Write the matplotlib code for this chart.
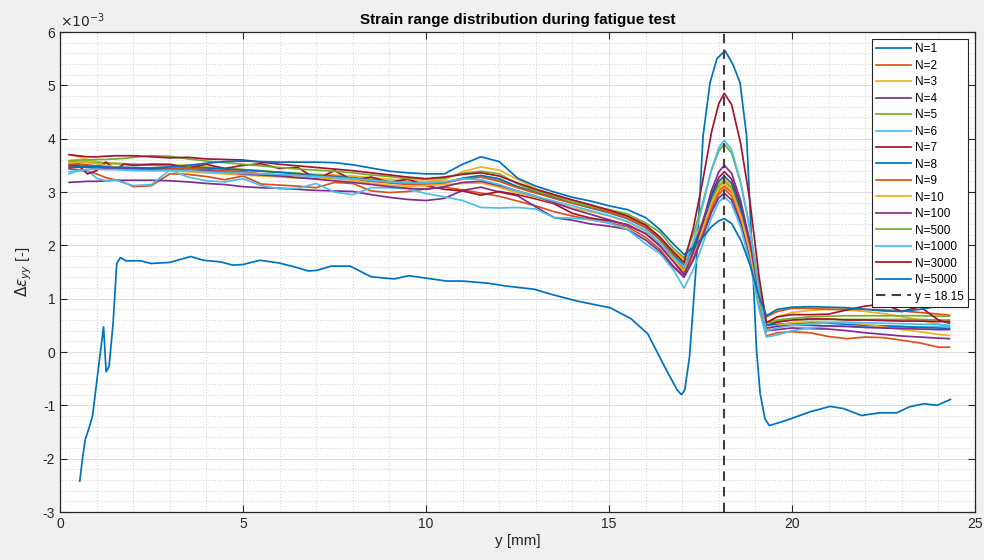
import matplotlib
matplotlib.use('Agg')
import matplotlib.pyplot as plt
from matplotlib.ticker import MultipleLocator

plt.rcParams['font.family'] = ['Liberation Sans', 'DejaVu Sans']
plt.rcParams['axes.unicode_minus'] = False

# ---- data (strain range, units of 1e-3) ----
# first cycle, measured on its own grid
n1_y = [0.54, 0.62, 0.69, 0.80, 0.89, 1.03, 1.19, 1.26, 1.34, 1.45,
        1.55, 1.65, 1.80, 2.2, 2.49, 3.0, 3.57, 3.92, 4.38, 4.72,
        5.0, 5.46, 5.98, 6.44, 6.78, 7.01, 7.41, 7.93, 8.16, 8.5,
        9.13, 9.53, 10.1, 10.56, 11.0, 11.7, 12.16, 12.97, 13.43, 14.1,
        14.7, 15.03, 15.6, 16.06, 16.5, 16.86, 16.98, 17.07, 17.2, 17.38,
        17.57, 17.76, 17.95, 18.17, 18.38, 18.58, 18.76, 18.9, 19.03, 19.13,
        19.26, 19.38, 19.85, 20.5, 21.04, 21.4, 21.9, 22.4, 22.86, 23.2,
        23.6, 23.96, 24.33]
n1_strain = [-2.42, -1.97, -1.64, -1.41, -1.19, -0.41, 0.47, -0.37, -0.27, 0.53,
             1.66, 1.77, 1.71, 1.71, 1.66, 1.68, 1.79, 1.72, 1.69, 1.63,
             1.64, 1.72, 1.67, 1.59, 1.52, 1.53, 1.61, 1.61, 1.53, 1.41,
             1.37, 1.43, 1.375, 1.33, 1.33, 1.29, 1.24, 1.175, 1.08, 0.96,
             0.875, 0.83, 0.625, 0.34, -0.25, -0.71, -0.80, -0.71, -0.09, 1.6,
             4.05, 5.05, 5.5, 5.65, 5.4, 5.05, 4.05, 2.0, 0.04, -0.78,
             -1.25, -1.38, -1.28, -1.12, -1.02, -1.06, -1.19, -1.14, -1.14, -1.03,
             -0.97, -1.0, -0.89]

# later cycles share one position grid
y_pos = [0.25, 0.5, 0.75, 1.0, 1.25, 1.5, 1.75, 2.0, 2.5, 3.0,
         3.5, 4.0, 4.5, 5.0, 5.5, 6.0, 6.5, 7.0, 7.5, 8.0,
         8.5, 9.0, 9.5, 10.0, 10.5, 11.0, 11.5, 12.0, 12.5, 13.0,
         13.5, 14.0, 14.5, 15.0, 15.5, 16.0, 16.4, 16.75, 17.05, 17.3,
         17.55, 17.8, 18.0, 18.15, 18.35, 18.6, 18.85, 19.1, 19.3, 19.6,
         20.0, 20.5, 21.0, 21.5, 22.0, 22.5, 23.0, 23.5, 24.0, 24.3]

n2 = [3.43, 3.42, 3.39, 3.34, 3.27, 3.23, 3.18, 3.10, 3.12, 3.34,
      3.33, 3.29, 3.23, 3.30, 3.15, 3.13, 3.11, 3.08, 3.18, 3.16,
      3.02, 2.99, 3.01, 3.06, 3.09, 3.04, 2.98, 2.92, 2.83, 2.74,
      2.63, 2.55, 2.48, 2.42, 2.35, 2.15, 1.92, 1.62, 1.42, 1.75,
      2.19, 2.68, 2.96, 3.06, 2.92, 2.45, 1.76, 0.85, 0.30, 0.36,
      0.38, 0.36, 0.29, 0.25, 0.28, 0.27, 0.22, 0.17, 0.09, 0.09]
n3 = [3.70, 3.66, 3.61, 3.57, 3.55, 3.54, 3.53, 3.52, 3.52, 3.51,
      3.50, 3.47, 3.45, 3.42, 3.39, 3.37, 3.35, 3.33, 3.32, 3.30,
      3.27, 3.24, 3.21, 3.20, 3.23, 3.38, 3.47, 3.41, 3.24, 3.06,
      2.95, 2.84, 2.74, 2.65, 2.55, 2.38, 2.14, 1.90, 1.74, 2.04,
      2.45, 2.90, 3.15, 3.24, 3.11, 2.65, 1.98, 1.09, 0.55, 0.66,
      0.74, 0.78, 0.80, 0.79, 0.76, 0.72, 0.66, 0.60, 0.52, 0.47]
n4 = [3.18, 3.19, 3.20, 3.20, 3.21, 3.22, 3.22, 3.22, 3.22, 3.21,
      3.19, 3.16, 3.14, 3.10, 3.08, 3.07, 3.05, 3.03, 3.02, 3.01,
      2.95, 2.90, 2.86, 2.84, 2.88, 3.03, 3.09, 3.00, 2.93, 2.72,
      2.52, 2.47, 2.40, 2.36, 2.30, 2.10, 1.88, 1.60, 1.40, 1.72,
      2.14, 2.62, 2.89, 2.98, 2.85, 2.41, 1.77, 0.92, 0.40, 0.42,
      0.45, 0.44, 0.43, 0.40, 0.36, 0.33, 0.30, 0.28, 0.26, 0.25]
n5 = [3.58, 3.57, 3.56, 3.55, 3.54, 3.53, 3.53, 3.52, 3.50, 3.49,
      3.48, 3.46, 3.44, 3.42, 3.40, 3.37, 3.35, 3.32, 3.30, 3.27,
      3.24, 3.20, 3.18, 3.17, 3.19, 3.25, 3.28, 3.22, 3.10, 3.00,
      2.91, 2.80, 2.72, 2.64, 2.55, 2.38, 2.14, 1.86, 1.66, 1.97,
      2.38, 2.85, 3.11, 3.20, 3.07, 2.62, 1.95, 1.08, 0.55, 0.58,
      0.60, 0.61, 0.61, 0.61, 0.61, 0.61, 0.61, 0.61, 0.60, 0.60]
n6 = [3.34, 3.40, 3.40, 3.26, 3.21, 3.23, 3.17, 3.12, 3.14, 3.41,
      3.28, 3.21, 3.19, 3.25, 3.12, 3.06, 3.07, 3.16, 3.00, 2.95,
      3.08, 3.08, 3.06, 2.97, 2.91, 2.84, 2.71, 2.70, 2.71, 2.68,
      2.52, 2.51, 2.48, 2.42, 2.30, 2.03, 1.84, 1.55, 1.20, 1.54,
      2.00, 2.52, 2.81, 2.91, 2.78, 2.33, 1.67, 0.81, 0.28, 0.32,
      0.40, 0.45, 0.48, 0.48, 0.47, 0.47, 0.46, 0.47, 0.48, 0.48]
n7 = [3.49, 3.50, 3.34, 3.40, 3.56, 3.43, 3.52, 3.50, 3.52, 3.52,
      3.45, 3.52, 3.44, 3.50, 3.53, 3.44, 3.46, 3.24, 3.40, 3.22,
      3.28, 3.18, 3.24, 3.12, 3.05, 3.02, 2.94, 3.01, 2.95, 2.87,
      2.78, 2.60, 2.51, 2.46, 2.39, 2.22, 2.00, 1.72, 1.50, 1.88,
      2.38, 2.95, 3.27, 3.38, 3.24, 2.75, 2.03, 1.08, 0.50, 0.56,
      0.60, 0.62, 0.62, 0.60, 0.60, 0.59, 0.58, 0.58, 0.57, 0.57]
n8 = [3.52, 3.51, 3.50, 3.49, 3.48, 3.47, 3.46, 3.45, 3.44, 3.44,
      3.45, 3.45, 3.43, 3.41, 3.39, 3.37, 3.34, 3.31, 3.29, 3.26,
      3.22, 3.19, 3.16, 3.15, 3.17, 3.26, 3.31, 3.25, 3.10, 2.99,
      2.89, 2.79, 2.70, 2.61, 2.50, 2.33, 2.10, 1.82, 1.62, 1.96,
      2.41, 2.91, 3.20, 3.30, 3.16, 2.68, 1.98, 1.06, 0.50, 0.52,
      0.54, 0.55, 0.54, 0.52, 0.50, 0.49, 0.48, 0.46, 0.45, 0.44]
n9 = [3.52, 3.53, 3.51, 3.48, 3.45, 3.44, 3.43, 3.42, 3.42, 3.44,
      3.45, 3.42, 3.40, 3.38, 3.34, 3.32, 3.31, 3.30, 3.27, 3.24,
      3.20, 3.17, 3.14, 3.14, 3.17, 3.24, 3.28, 3.20, 3.08, 2.98,
      2.88, 2.79, 2.71, 2.62, 2.51, 2.34, 2.10, 1.80, 1.55, 1.86,
      2.28, 2.75, 3.02, 3.11, 2.99, 2.57, 1.96, 1.15, 0.66, 0.76,
      0.82, 0.82, 0.80, 0.80, 0.80, 0.79, 0.77, 0.74, 0.71, 0.69]
n10 = [3.55, 3.56, 3.55, 3.53, 3.50, 3.47, 3.45, 3.42, 3.40, 3.39,
       3.38, 3.36, 3.34, 3.32, 3.30, 3.28, 3.26, 3.27, 3.25, 3.22,
       3.16, 3.13, 3.11, 3.12, 3.14, 3.16, 3.17, 3.09, 2.98, 2.90,
       2.80, 2.70, 2.63, 2.55, 2.44, 2.27, 2.03, 1.74, 1.52, 1.85,
       2.29, 2.78, 3.06, 3.16, 3.02, 2.56, 1.87, 0.97, 0.42, 0.50,
       0.55, 0.57, 0.56, 0.55, 0.52, 0.47, 0.42, 0.38, 0.33, 0.31]
n100 = [3.45, 3.47, 3.46, 3.45, 3.44, 3.45, 3.45, 3.44, 3.43, 3.42,
        3.41, 3.40, 3.37, 3.34, 3.32, 3.30, 3.27, 3.24, 3.21, 3.18,
        3.14, 3.10, 3.07, 3.05, 3.10, 3.18, 3.20, 3.12, 3.02, 2.92,
        2.80, 2.68, 2.58, 2.48, 2.38, 2.22, 1.98, 1.70, 1.45, 1.86,
        2.41, 3.03, 3.38, 3.50, 3.35, 2.83, 2.07, 1.06, 0.45, 0.48,
        0.50, 0.50, 0.49, 0.48, 0.46, 0.45, 0.44, 0.43, 0.42, 0.42]
n500 = [3.59, 3.60, 3.60, 3.61, 3.61, 3.62, 3.63, 3.65, 3.68, 3.67,
        3.62, 3.58, 3.55, 3.52, 3.49, 3.46, 3.43, 3.41, 3.39, 3.36,
        3.32, 3.29, 3.25, 3.24, 3.26, 3.35, 3.39, 3.34, 3.15, 3.02,
        2.93, 2.81, 2.73, 2.67, 2.59, 2.42, 2.24, 1.95, 1.77, 2.20,
        2.77, 3.41, 3.77, 3.90, 3.73, 3.16, 2.33, 1.22, 0.55, 0.60,
        0.63, 0.66, 0.67, 0.68, 0.68, 0.68, 0.68, 0.68, 0.67, 0.67]
n1000 = [3.38, 3.40, 3.42, 3.43, 3.42, 3.42, 3.41, 3.40, 3.40, 3.41,
         3.40, 3.38, 3.36, 3.35, 3.34, 3.33, 3.31, 3.29, 3.27, 3.25,
         3.22, 3.19, 3.17, 3.17, 3.19, 3.25, 3.23, 3.14, 3.02, 2.92,
         2.83, 2.74, 2.65, 2.56, 2.45, 2.28, 2.04, 1.78, 1.60, 2.07,
         2.71, 3.42, 3.83, 3.97, 3.79, 3.18, 2.29, 1.11, 0.40, 0.45,
         0.50, 0.52, 0.55, 0.56, 0.55, 0.54, 0.53, 0.52, 0.52, 0.50]
n3000 = [3.70, 3.68, 3.66, 3.66, 3.67, 3.68, 3.68, 3.68, 3.66, 3.64,
         3.65, 3.62, 3.61, 3.60, 3.56, 3.52, 3.49, 3.46, 3.43, 3.40,
         3.36, 3.32, 3.28, 3.25, 3.28, 3.33, 3.36, 3.30, 3.17, 3.05,
         2.95, 2.85, 2.76, 2.66, 2.55, 2.38, 2.15, 1.88, 1.68, 2.31,
         3.17, 4.12, 4.66, 4.85, 4.64, 3.90, 2.83, 1.41, 0.55, 0.66,
         0.70, 0.70, 0.71, 0.79, 0.86, 0.90, 0.76, 0.85, 0.60, 0.54]
n5000 = [3.46, 3.47, 3.48, 3.48, 3.47, 3.46, 3.46, 3.46, 3.45, 3.47,
         3.50, 3.54, 3.57, 3.58, 3.57, 3.56, 3.56, 3.56, 3.55, 3.51,
         3.45, 3.39, 3.36, 3.34, 3.34, 3.52, 3.66, 3.57, 3.26, 3.11,
         3.00, 2.90, 2.83, 2.74, 2.67, 2.52, 2.29, 2.03, 1.83, 1.96,
         2.14, 2.35, 2.46, 2.50, 2.41, 2.10, 1.64, 1.04, 0.68, 0.80,
         0.84, 0.85, 0.84, 0.83, 0.80, 0.77, 0.76, 0.80, 0.86, 0.89]

cycle_labels = ['N=2', 'N=3', 'N=4', 'N=5', 'N=6', 'N=7', 'N=8', 'N=9', 'N=10',
                'N=100', 'N=500', 'N=1000', 'N=3000', 'N=5000']
cycle_data = [n2, n3, n4, n5, n6, n7, n8, n9, n10, n100, n500, n1000, n3000, n5000]
y_ref = 18.15

colors = ['#0072BD', '#D95319', '#EDB120', '#7E2F8E', '#77AC30', '#4DBEEE', '#A2142F']

fig = plt.figure(figsize=(9.84, 5.6), dpi=100, facecolor='#f0f0f0')
ax = fig.add_axes([60/984, 48/560, 915/984, 480/560])

ax.plot(n1_y, n1_strain, color=colors[0], lw=1.25, label='N=1')
for i, (lab, vals) in enumerate(zip(cycle_labels, cycle_data)):
    ax.plot(y_pos, vals, color=colors[(i + 1) % 7], lw=1.25, label=lab)
ax.axvline(y_ref, color='#404040', lw=1.5, ls=(0, (4.5, 3)), label='y = 18.15')

ax.set_xlim(0, 25)
ax.set_ylim(-3, 6)
ax.xaxis.set_major_locator(MultipleLocator(5))
ax.xaxis.set_minor_locator(MultipleLocator(1))
ax.yaxis.set_major_locator(MultipleLocator(1))
ax.yaxis.set_minor_locator(MultipleLocator(0.2))
ax.grid(which='major', color='#dedede', lw=0.7)
ax.grid(which='minor', color='#c4c4c4', lw=0.6, ls=(0, (1, 2.5)))
ax.set_axisbelow(True)
ax.tick_params(which='major', direction='in', top=True, right=True, length=5,
               width=0.8, color='#262626', labelsize=10, labelcolor='#262626')
ax.tick_params(which='minor', length=0, top=True, right=True)
for s in ax.spines.values():
    s.set_color('#262626')
    s.set_linewidth(0.9)

ax.set_title('Strain range distribution during fatigue test', fontsize=11,
             fontweight='bold', color='black', pad=6)
ax.set_xlabel('y [mm]', fontsize=11, color='#262626', labelpad=2)
ax.set_ylabel(r'$\Delta\epsilon_{yy}$ [-]', fontsize=11, color='#262626', labelpad=6)
ax.text(0.0, 1.004, r'$\times10^{-3}$', transform=ax.transAxes, ha='left',
        va='bottom', fontsize=10, color='#262626')

leg = ax.legend(loc='upper right', fontsize=8.5, frameon=True, fancybox=False,
                edgecolor='#262626', framealpha=1, labelspacing=0.38,
                handlelength=3.0, handletextpad=0.3, borderpad=0.35,
                borderaxespad=0.6)
leg.get_frame().set_linewidth(0.8)

fig.savefig('out.png', dpi=100, facecolor=fig.get_facecolor())
